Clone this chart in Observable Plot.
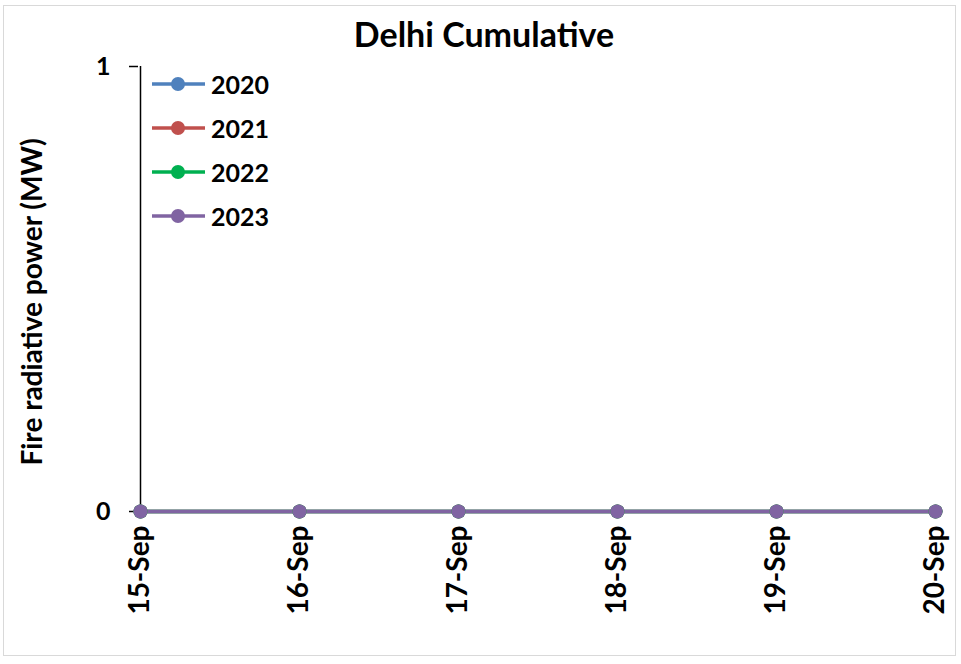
<!DOCTYPE html>
<html>
<head>
<meta charset="utf-8">
<script src="https://cdn.jsdelivr.net/npm/d3@7"></script>
<script src="https://cdn.jsdelivr.net/npm/@observablehq/plot@0.6"></script>
<style>
  html, body { margin: 0; padding: 0; background: #fff; }
  #wrap { position: relative; width: 961px; height: 664px; font-family: Lato, "Open Sans", sans-serif; font-weight: bold; }
  #border { position: absolute; left: 3px; top: 5px; width: 953px; height: 651px; border: 1.5px solid #d9d9d9; box-sizing: border-box; }
  #title { position: absolute; left: 0; width: 968px; top: 13px; text-align: center; font-size: 34px; color: #000; }
  #ylabel { position: absolute; left: 31px; top: 302px; transform: translate(-50%, -50%) rotate(-90deg); white-space: nowrap; font-size: 28px; line-height: 1; color: #000; }
  #legend { position: absolute; left: 151px; top: 62px; }
  .item { display: flex; align-items: center; height: 44px; font-size: 25px; }
  .item svg { margin-right: 5px; }
  #chart { position: absolute; left: 0; top: 0; }
</style>
</head>
<body>
<div id="wrap">
  <div id="border"></div>
  <div id="chart"></div>
  <div id="title">Delhi Cumulative</div>
  <div id="ylabel">Fire radiative power (MW)</div>
  <div id="legend"></div>
</div>
<script>
const dates = ["15-Sep", "16-Sep", "17-Sep", "18-Sep", "19-Sep", "20-Sep"];
const years = ["2020", "2021", "2022", "2023"];
const colors = ["#4f81bd", "#c0504d", "#00b050", "#8064a2"];
const values2020 = [0, 0, 0, 0, 0, 0];
const values2021 = [0, 0, 0, 0, 0, 0];
const values2022 = [0, 0, 0, 0, 0, 0];
const values2023 = [0, 0, 0, 0, 0, 0];
const yTicks = [0, 1];

const seriesValues = [values2020, values2021, values2022, values2023];
const data = [];
years.forEach((y, i) => {
  seriesValues[i].forEach((v, j) => data.push({year: y, date: dates[j], value: v}));
});

const plot = Plot.plot({
  width: 961,
  height: 664,
  marginLeft: 138,
  marginRight: 24,
  marginTop: 66,
  marginBottom: 153,
  style: {fontFamily: "Lato, 'Open Sans', sans-serif", fontWeight: "bold", fontSize: "24px", color: "#000", background: "transparent"},
  x: {type: "point", domain: dates, padding: 0},
  y: {domain: [0, 1]},
  color: {domain: years, range: colors},
  marks: [
    Plot.ruleX([dates[0]], {y1: 0, y2: 1, stroke: "#000", strokeWidth: 1.5}),
    Plot.axisY({ticks: yTicks, tickFormat: d3.format("d"), tickSize: 9, tickPadding: 19, stroke: "#000", strokeWidth: 1.5,
      fontSize: 25, label: null}),
    Plot.axisX({tickRotate: -90, tickSize: 6, tickPadding: 8, label: null, fontSize: 28, stroke: "#000", strokeWidth: 1.5}),
    Plot.ruleY([0], {stroke: "#000", strokeWidth: 1.5}),
    Plot.line(data, {x: "date", y: "value", z: "year", stroke: "year", strokeWidth: 3.5}),
    Plot.dot(data, {x: "date", y: "value", fill: "year", r: 7, stroke: "none"})
  ]
});
document.getElementById("chart").appendChild(plot);

const legend = document.getElementById("legend");
years.forEach((y, i) => {
  const item = document.createElement("div");
  item.className = "item";
  item.innerHTML = `<svg width="55" height="20"><line x1="1" x2="54" y1="10" y2="10" stroke="${colors[i]}" stroke-width="3.5"/><circle cx="27" cy="10" r="7" fill="${colors[i]}"/></svg><span>${y}</span>`;
  legend.appendChild(item);
});
</script>
</body>
</html>
